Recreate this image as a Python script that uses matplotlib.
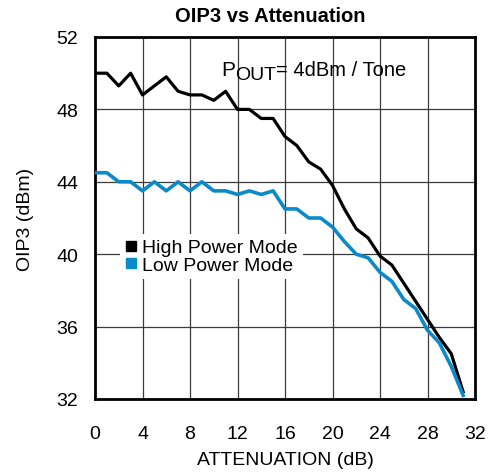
import matplotlib
matplotlib.use("Agg")
import matplotlib.pyplot as plt
from matplotlib.lines import Line2D

plt.rcParams["font.family"] = ["Liberation Sans", "DejaVu Sans"]

attenuation = list(range(32))
high_power = [50.0, 50.0, 49.3, 50.0, 48.8, 49.3, 49.8, 49.0, 48.8, 48.8,
              48.5, 49.0, 48.0, 48.0, 47.5, 47.5, 46.5, 46.0, 45.1, 44.7,
              43.8, 42.5, 41.4, 40.9, 39.9, 39.4, 38.4, 37.4, 36.4, 35.4,
              34.5, 32.4]
low_power = [44.5, 44.5, 44.0, 44.0, 43.5, 44.0, 43.5, 44.0, 43.5, 44.0,
             43.5, 43.5, 43.3, 43.5, 43.3, 43.5, 42.5, 42.5, 42.0, 42.0,
             41.5, 40.7, 40.0, 39.8, 39.0, 38.5, 37.5, 37.0, 35.8, 35.1,
             33.8, 32.2]
x_ticks = [0, 4, 8, 12, 16, 20, 24, 28, 32]
y_ticks = [32, 36, 40, 44, 48, 52]

BLUE = "#0a8ac8"
FS = 14

fig = plt.figure(figsize=(4.92, 4.77), dpi=100)
ax = fig.add_axes([95 / 492, 1 - 400 / 477, 380 / 492, 362 / 477])

ax.plot(attenuation, high_power, color="black", lw=2.3, zorder=3)
ax.plot(attenuation, low_power, color=BLUE, lw=2.6, zorder=3)

ax.set_xlim(0, 32)
ax.set_ylim(32, 52)
ax.set_xticks(x_ticks)
ax.set_yticks(y_ticks)
ax.tick_params(length=0, labelsize=FS, pad=12)
ax.tick_params(axis="x", pad=19)
ax.grid(True, color="#3a3a3a", lw=0.9)
ax.set_axisbelow(True)
for sp in ax.spines.values():
    sp.set_linewidth(2.0)

fig.text(270 / 492, 1 - 17 / 477, "OIP3 vs Attenuation", fontsize=14.5,
         weight="bold", ha="center", va="center")
ax.set_xlabel("ATTENUATION (dB)", fontsize=FS, labelpad=6)
ax.set_ylabel("OIP3 (dBm)", fontsize=FS, labelpad=16)

# P_OUT annotation
t1 = ax.text(10.6, 49.9, "P", fontsize=FS + 1, va="baseline", ha="left")
t2 = ax.annotate("OUT", xy=(1, 0), xycoords=t1, xytext=(0, -3),
                 textcoords="offset points", fontsize=FS, va="bottom", ha="left")
ax.annotate("= 4dBm / Tone", xy=(1, 0), xycoords=t2, xytext=(0, 3),
            textcoords="offset points", fontsize=FS + 0.5, va="bottom", ha="left")

handles = [
    Line2D([], [], ls="none", marker="s", color="black", markersize=7.5),
    Line2D([], [], ls="none", marker="s", color=BLUE, markersize=7.5),
]
leg = ax.legend(handles, ["High Power Mode", "Low Power Mode"],
                loc="upper left", bbox_to_anchor=(0.066, 0.456),
                borderaxespad=0, borderpad=0.25, handlelength=0.6,
                handletextpad=0.3, labelspacing=0.0, fontsize=FS,
                frameon=True, fancybox=False, framealpha=1,
                facecolor="white", edgecolor="none")
leg.set_zorder(4)

fig.savefig("out.png", dpi=100)
